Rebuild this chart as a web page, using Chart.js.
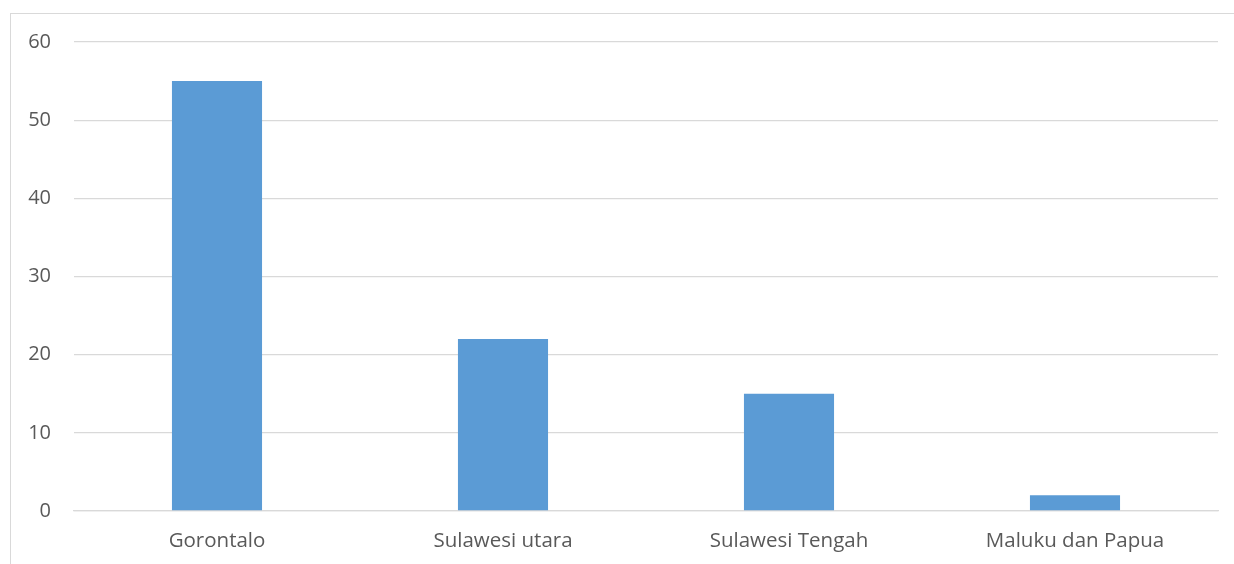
<!DOCTYPE html>
<html><head><meta charset="utf-8">
<script src="https://cdn.jsdelivr.net/npm/chart.js@4/dist/chart.umd.min.js"></script>
<style>html,body{margin:0;padding:0;background:#fff}#wrap{width:1234px;height:564px;position:relative}</style>
</head><body><div id="wrap"><canvas id="c" width="1234" height="564"></canvas></div>
<script>
const categories = ["Gorontalo", "Sulawesi utara", "Sulawesi Tengah", "Maluku dan Papua"];
const values = [55, 22, 15, 2];
const yTicks = [0, 10, 20, 30, 40, 50, 60];

const borderPlugin = {
  id: 'outerBorder',
  beforeDraw(chart) {
    const ctx = chart.ctx;
    ctx.save();
    ctx.fillStyle = '#ffffff';
    ctx.fillRect(0, 0, chart.width, chart.height);
    ctx.strokeStyle = '#d9d9d9';
    ctx.lineWidth = 1;
    ctx.strokeRect(10.5, 13.5, 1400, 700);
    ctx.restore();
  }
};

new Chart(document.getElementById('c'), {
  type: 'bar',
  data: { labels: categories, datasets: [{ data: values, backgroundColor: '#5b9bd5', barPercentage: 0.315, categoryPercentage: 1 }] },
  options: {
    responsive: false, animation: false,
    layout: { padding: { left: 0, top: 42, right: 16, bottom: 0 } },
    plugins: { legend: { display: false }, tooltip: { enabled: false } },
    scales: {
      x: {
        grid: { display: false, drawTicks: false },
        border: { display: true, color: '#d9d9d9', width: 1.3 },
        ticks: { color: '#595959', font: { family: 'Open Sans', size: 20.5 }, padding: 18, maxRotation: 0 },
        afterFit(s) { s.height = 53; }
      },
      y: {
        min: 0, max: 60,
        afterBuildTicks(s) { s.ticks = yTicks.map(v => ({ value: v })); },
        grid: { color: '#d9d9d9', lineWidth: 1.3, drawTicks: false },
        border: { display: false },
        ticks: { color: '#595959', font: { family: 'Open Sans', size: 20 }, padding: 23 },
        afterFit(s) { s.width = 74; }
      }
    }
  },
  plugins: [borderPlugin]
});
</script></body></html>
